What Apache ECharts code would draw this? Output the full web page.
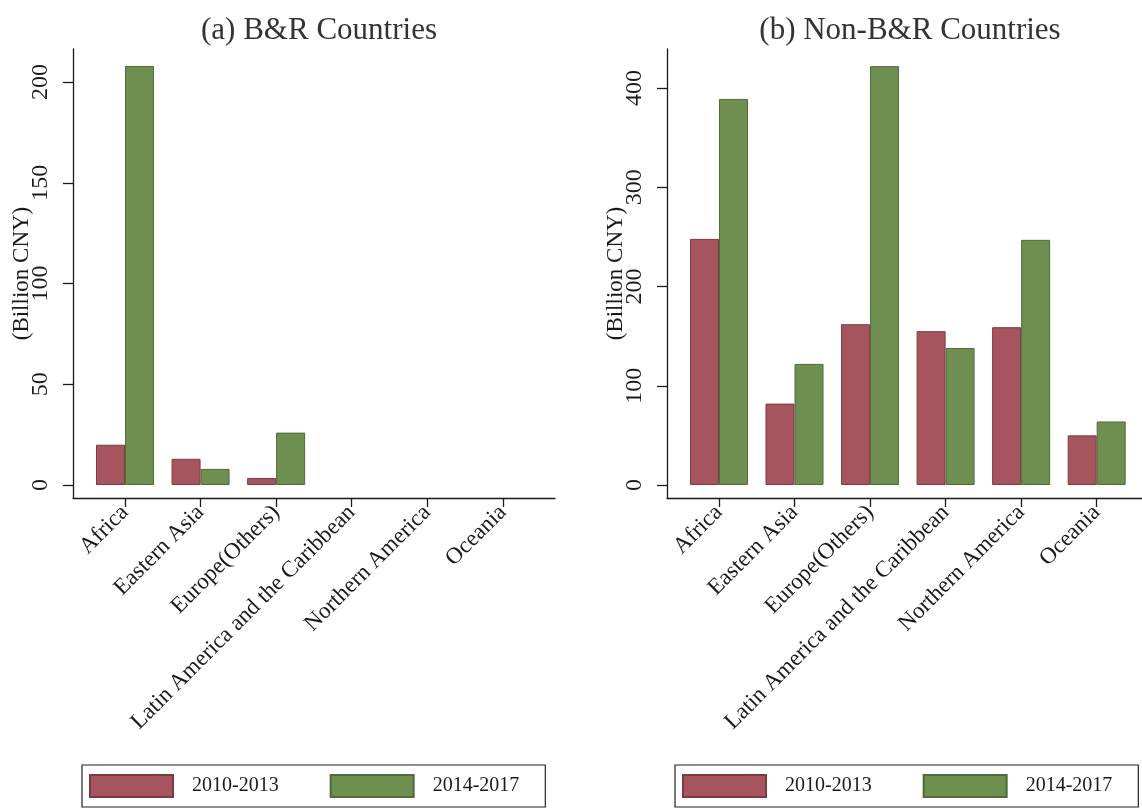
<!DOCTYPE html>
<html>
<head>
<meta charset="utf-8">
<title>Outward investment by region</title>
<script src="https://cdn.jsdelivr.net/npm/echarts@6/dist/echarts.min.js"></script>
<style>
  html, body { margin: 0; padding: 0; background: #fff; }
  #chart { width: 1142px; height: 808px; }
</style>
</head>
<body>
<div id="chart"></div>
<script>
// Regions on the horizontal axis
const regions = ['Africa', 'Eastern Asia', 'Europe(Others)', 'Latin America and the Caribbean', 'Northern America', 'Oceania'];
const periods = ['2010-2013', '2014-2017'];

// (a) B&R countries, billion CNY (no bars for the last three regions)
const brEarly = [20, 13, 3.5, null, null, null];
const brLate = [208, 8, 26, null, null, null];

// (b) Non-B&R countries, billion CNY
const nonBrEarly = [248, 82, 162, 155, 159, 50];
const nonBrLate = [389, 122, 422, 138, 247, 64];

// Tick labels on the value axes
const brTicks = [0, 50, 100, 150, 200];
const nonBrTicks = [0, 100, 200, 300, 400];
const regionTicks = [0, 1, 2, 3, 4, 5];

const FONT = "'Liberation Serif', 'Times New Roman', serif";
const RED = '#a6545e';
const GREEN = '#6e8f4f';
const INK = '#1a1a1a';

const chart = echarts.init(document.getElementById('chart'), null, { renderer: 'canvas' });

function xAxisFor(gridIndex, max) {
  return {
    gridIndex, type: 'value', min: -0.688, max,
    splitLine: { show: false },
    axisLine: { onZero: false, lineStyle: { color: INK, width: 1.3 } },
    axisTick: { customValues: regionTicks, length: 9, lineStyle: { color: INK, width: 1.3 } },
    axisLabel: {
      customValues: regionTicks, rotate: 45, margin: 11,
      fontFamily: FONT, fontSize: 23, color: INK,
      formatter: v => regions[Math.round(v)]
    }
  };
}

function yAxisFor(gridIndex, min, max, ticks) {
  return {
    gridIndex, type: 'value', min, max,
    name: '(Billion CNY)', nameLocation: 'middle', nameRotate: 90, nameGap: 40,
    nameMoveOverlap: false,
    nameTextStyle: { fontFamily: FONT, fontSize: 23, color: INK },
    splitLine: { show: false },
    axisLine: { show: true, onZero: false, lineStyle: { color: INK, width: 1.3 } },
    axisTick: { show: true, customValues: ticks, length: 10, lineStyle: { color: INK, width: 1.3 } },
    axisLabel: {
      customValues: ticks, rotate: 90, margin: 20,
      fontFamily: FONT, fontSize: 24, color: INK
    }
  };
}

function barSeries(name, idx, values, color, border) {
  return {
    type: 'bar', name,
    xAxisIndex: idx, yAxisIndex: idx,
    data: regions.map((r, i) => [i, values[i]]),
    barWidth: 29, barGap: '0%',
    itemStyle: { color, borderColor: border, borderWidth: 1 },
    emphasis: { disabled: true }
  };
}

function legendFor(left) {
  return {
    left, top: 765,
    orient: 'horizontal',
    data: periods,
    icon: 'rect',
    itemWidth: 83, itemHeight: 22, itemGap: 51,
    padding: [9, 26, 9, 7],
    borderColor: '#222', borderWidth: 1.2,
    selectedMode: false,
    textStyle: { fontFamily: FONT, fontSize: 20, color: INK, padding: [0, 0, 0, 14] }
  };
}

chart.setOption({
  backgroundColor: '#ffffff',
  animation: false,
  title: [
    { text: '(a) B&R Countries', left: 314, top: 10, textAlign: 'center',
      textStyle: { fontFamily: FONT, fontSize: 31, fontWeight: 'normal', color: '#333' } },
    { text: '(b) Non-B&R Countries', left: 905, top: 10, textAlign: 'center',
      textStyle: { fontFamily: FONT, fontSize: 31, fontWeight: 'normal', color: '#333' } }
  ],
  legend: [legendFor(82), legendFor(675)],
  grid: [
    { left: 73, top: 49, width: 482, height: 449 },
    { left: 667, top: 49, width: 475, height: 449 }
  ],
  xAxis: [xAxisFor(0, 5.69), xAxisFor(1, 5.6)],
  yAxis: [yAxisFor(0, -6.45, 216.4, brTicks), yAxisFor(1, -13.1, 439.3, nonBrTicks)],
  series: [
    barSeries(periods[0], 0, brEarly, RED, '#7c3b42'),
    barSeries(periods[1], 0, brLate, GREEN, '#506a38'),
    barSeries(periods[0], 1, nonBrEarly, RED, '#7c3b42'),
    barSeries(periods[1], 1, nonBrLate, GREEN, '#506a38')
  ]
});
</script>
</body>
</html>
